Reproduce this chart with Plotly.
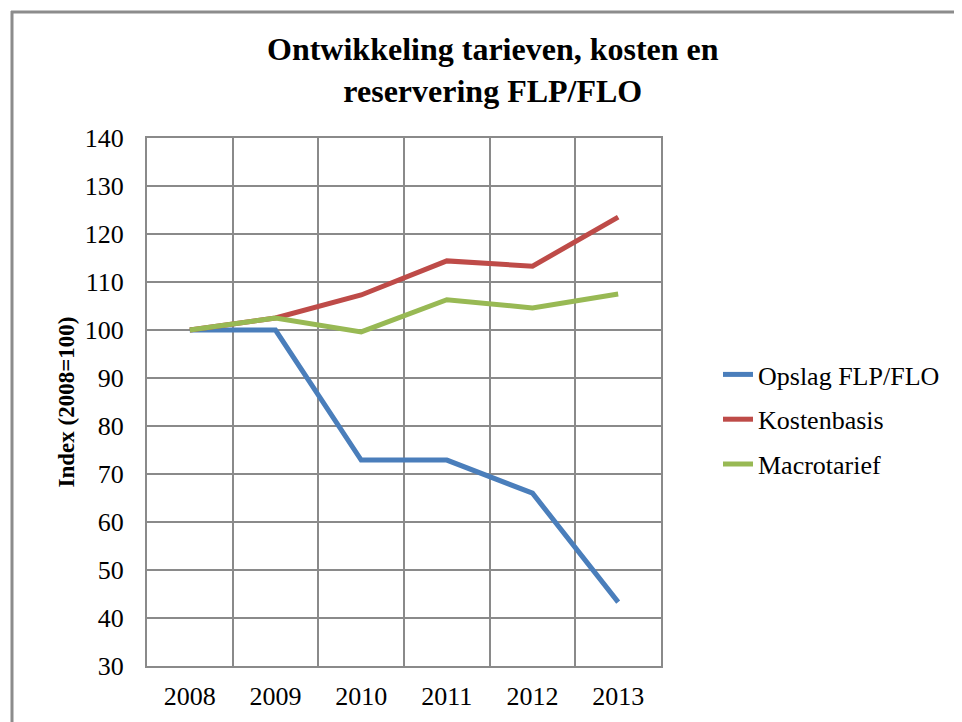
import plotly.graph_objects as go

years = ["2008", "2009", "2010", "2011", "2012", "2013"]
opslag = [100, 100, 72.9, 72.9, 66.0, 43.3]
kostenbasis = [100, 102.5, 107.3, 114.4, 113.3, 123.5]
macrotarief = [100, 102.5, 99.6, 106.3, 104.6, 107.5]

series = [
    ("Opslag FLP/FLO", opslag, "#4A7EBB"),
    ("Kostenbasis", kostenbasis, "#BE4B48"),
    ("Macrotarief", macrotarief, "#98B954"),
]

OFF = 8  # browser body margin
W, H = 962 - OFF, 722 - OFF
L, R, T, B = 147 - OFF, 661 - OFF, 138 - OFF, 666 - OFF


def px(x):
    return (x - OFF - L) / (R - L)


def py(y):
    return (B - (y - OFF)) / (B - T)


fig = go.Figure()
for i, (name, vals, col) in enumerate(series):
    fig.add_trace(go.Scatter(x=years, y=vals, name=name, mode="lines",
                             line=dict(color=col, width=5), legendgroup=str(i)))

font = "Liberation Serif, Times New Roman, serif"
grid = "#8a8a8a"

fig.update_layout(
    width=W, height=H,
    margin=dict(l=L, r=W - R, t=T, b=H - B, autoexpand=False),
    paper_bgcolor="white", plot_bgcolor="white",
    font=dict(family=font, size=26, color="black"),
    showlegend=True,
    legend=dict(x=px(718), xanchor="left", y=py(351), yanchor="top",
                font=dict(family=font, size=26), tracegroupgap=8,
                bgcolor="rgba(0,0,0,0)"),
    xaxis=dict(type="category", tickson="boundaries", range=[-0.5, 5.5],
               automargin=False,
               showgrid=True, gridcolor=grid,
               gridwidth=2, showline=True, linecolor=grid, linewidth=2, mirror=True,
               ticks="", ticklabelstandoff=6, tickfont=dict(family=font, size=26)),
    yaxis=dict(range=[30, 140], dtick=10, showgrid=True, gridcolor=grid, gridwidth=2,
               automargin=False,
               showline=True, linecolor=grid, linewidth=2, mirror=True, zeroline=False,
               ticks="", ticklabelstandoff=16, tickfont=dict(family=font, size=26),
               title=dict(text="<b>Index (2008=100)</b>", standoff=4,
                          font=dict(family=font, size=23))),
    annotations=[
        dict(text="<b>Ontwikkeling tarieven, kosten en<br>reservering FLP/FLO</b>",
             xref="paper", yref="paper", x=px(493), y=py(70),
             xanchor="center", yanchor="middle", showarrow=False,
             font=dict(family=font, size=32, color="black")),
    ],
    shapes=[
        dict(type="line", xref="paper", yref="paper", x0=px(8), x1=px(962),
             y0=py(5), y1=py(5), line=dict(color="black", width=3)),
        dict(type="line", xref="paper", yref="paper", x0=px(11), x1=px(962),
             y0=py(12), y1=py(12), line=dict(color="#8c8c8c", width=3)),
        dict(type="line", xref="paper", yref="paper", x0=px(12), x1=px(12),
             y0=py(11), y1=py(722), line=dict(color="#8c8c8c", width=3)),
    ],
)

fig.write_html("out.html")
